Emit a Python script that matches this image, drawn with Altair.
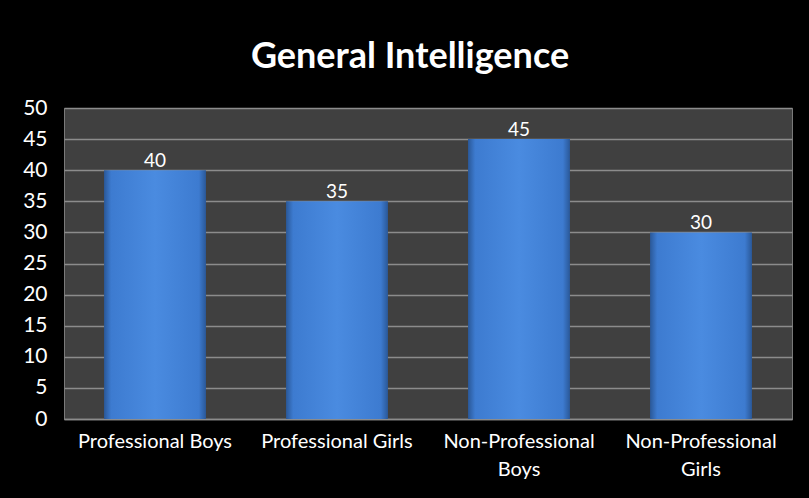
import altair as alt
import pandas as pd

categories = ["Professional Boys", "Professional Girls", "Non-Professional Boys", "Non-Professional Girls"]
values = [40, 35, 45, 30]
y_ticks = [0, 5, 10, 15, 20, 25, 30, 35, 40, 45, 50]

df = pd.DataFrame({"group": categories, "score": values})

FONT = "Lato"

x_enc = alt.X(
    "group:N",
    sort=categories,
    title=None,
    scale=alt.Scale(paddingInner=0.44, paddingOuter=0.22),
    axis=alt.Axis(
        labelAngle=0,
        labelColor="white",
        labelFont=FONT,
        labelFontSize=20,
        labelPadding=12,
        labelLineHeight=28,
        labelLimit=300,
        labelExpr="indexof(datum.label, 'Non-') == 0 ? split(datum.label, ' ') : datum.label",
        ticks=False,
        domainColor="#8c8c8c",
        domainWidth=1.5,
        grid=False,
    ),
)

y_enc = alt.Y(
    "score:Q",
    title=None,
    scale=alt.Scale(domain=[0, 50], nice=False),
    axis=alt.Axis(
        values=y_ticks,
        labelOverlap=False,
        labelColor="white",
        labelFont=FONT,
        labelFontSize=21,
        labelPadding=17,
        ticks=False,
        domain=False,
        gridColor="#8c8c8c",
        gridWidth=1.5,
    ),
)

bar_fill = alt.Gradient(
    gradient="linear",
    x1=0, y1=0, x2=1, y2=0,
    stops=[
        alt.GradientStop(color="#2a5898", offset=0),
        alt.GradientStop(color="#3d7bd0", offset=0.07),
        alt.GradientStop(color="#4a8be0", offset=0.5),
        alt.GradientStop(color="#3d7bd0", offset=0.93),
        alt.GradientStop(color="#2a5898", offset=1),
    ],
)

base = alt.Chart(df).encode(x=x_enc, y=y_enc)

bars = base.mark_bar(color=bar_fill)

labels = base.mark_text(
    color="white", font=FONT, fontSize=19, baseline="bottom", dy=1
).encode(text="score:Q")

chart = (
    alt.layer(bars, labels)
    .properties(
        width=728,
        height=311,
        title=alt.TitleParams(
            "General Intelligence",
            color="white",
            font=FONT,
            fontSize=36,
            fontWeight="bold",
            anchor="middle",
            dx=-18,
            offset=21,
        ),
        background="black",
        padding={"left": 64, "top": 108, "right": 17, "bottom": 79},
        autosize=alt.AutoSizeParams(type="none"),
    )
    .configure_view(fill="#404040", stroke="#7a7a7a", strokeWidth=1)
)

chart.save("out.html", embed_options={"renderer": "svg", "actions": False})
